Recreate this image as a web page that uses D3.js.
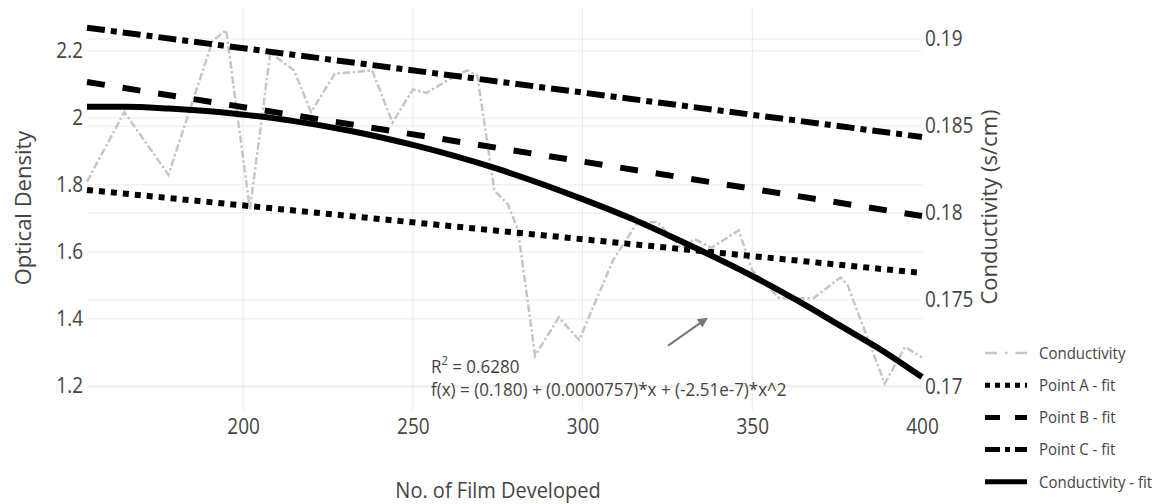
<!DOCTYPE html>
<html lang="en">
  <head>
    <meta charset="utf-8" />
    <script src="https://d3js.org/d3.v7.min.js"></script>
    <style>
      body { margin: 0; background: #fff; }
      text { font-family: 'Open Sans', 'Noto Sans', sans-serif; fill: #444; }
      .sq { transform-box: fill-box; transform-origin: center; transform: scaleY(1.1); }
    </style>
  </head>
  <body>
    <svg id="chart" width="1163" height="504"></svg>
    <script>
      // film counts and measured conductivity (s/cm)
      const filmX = [154, 165, 178, 191, 195, 202, 208, 215, 220, 227, 238, 244, 250, 254, 260, 266, 269, 274, 278, 281,
        286, 293, 299, 309, 316, 322, 329, 333, 338, 346, 350, 358, 368, 376, 378, 389, 395, 400];
      const conductivity = [0.1818, 0.1858, 0.1822, 0.1899, 0.1905, 0.1802, 0.1892, 0.1882, 0.1858, 0.1880, 0.1882, 0.1852,
        0.1871, 0.1869, 0.1876, 0.1882, 0.1879, 0.1813, 0.1805, 0.1790, 0.1718, 0.1740, 0.1727, 0.1773, 0.1794, 0.1795,
        0.1780, 0.1785, 0.1780, 0.1790, 0.1767, 0.1751, 0.1751, 0.1763, 0.1759, 0.1702, 0.1723, 0.1717];

      // quadratic fit of conductivity
      const fitX = [154, 165, 178, 191, 202, 215, 231, 250, 275, 300, 314, 327, 350, 364, 376, 388, 400];
      const conductivityFit = [0.1861, 0.1861, 0.1860, 0.18583, 0.18561, 0.18528, 0.18474, 0.18391, 0.18253, 0.18080,
        0.17971, 0.17856, 0.17638, 0.17489, 0.17351, 0.17213, 0.17057];

      // linear fits of optical density (start, end)
      const lineX = [154, 400];
      const pointA = [1.785, 1.537];
      const pointB = [2.107, 1.707];
      const pointC = [2.269, 1.943];

      const xTicks = [200, 250, 300, 350, 400];
      const leftTicks = [1.2, 1.4, 1.6, 1.8, 2, 2.2];
      const rightTicks = [0.17, 0.175, 0.18, 0.185, 0.19];
      const legendNames = ['Conductivity', 'Point A - fit', 'Point B - fit', 'Point C - fit', 'Conductivity - fit'];

      const svg = d3.select('#chart');
      const mLeft = 87, mRight = 922, mTop = 8, mBottom = 410;

      const x = d3.scaleLinear().domain([154, 400]).range([mLeft, mRight]);
      const yL = d3.scaleLinear().domain([1.128, 2.328]).range([mBottom, mTop]);
      const yR = d3.scaleLinear().domain([0.16868, 0.19178]).range([mBottom, mTop]);

      // grid
      const grid = svg.append('g').attr('stroke', '#ebebeb').attr('stroke-width', 1);
      grid.selectAll('.gx').data(xTicks.filter(d => d < 400)).enter().append('line')
        .attr('x1', d => x(d)).attr('x2', d => x(d)).attr('y1', mTop).attr('y2', mBottom);
      grid.selectAll('.gl').data(leftTicks).enter().append('line')
        .attr('x1', mLeft).attr('x2', mRight).attr('y1', d => yL(d)).attr('y2', d => yL(d));
      grid.selectAll('.gr').data(rightTicks).enter().append('line')
        .attr('x1', mLeft).attr('x2', mRight).attr('y1', d => yR(d)).attr('y2', d => yR(d));

      // axes
      const axX = svg.append('g').attr('transform', `translate(0,${mBottom})`)
        .call(d3.axisBottom(x).tickValues(xTicks).tickSize(0).tickPadding(10));
      const axL = svg.append('g').attr('transform', `translate(${mLeft},0)`)
        .call(d3.axisLeft(yL).tickValues(leftTicks).tickSize(0).tickPadding(4).tickFormat(d3.format('')));
      const axR = svg.append('g').attr('transform', `translate(${mRight},0)`)
        .call(d3.axisRight(yR).tickValues(rightTicks).tickSize(0).tickPadding(3).tickFormat(d3.format('')));
      [axX, axL, axR].forEach(a => {
        a.select('.domain').remove();
        a.selectAll('text').attr('class', 'sq').style('font-size', '19px').attr('fill', '#444')
          .style('font-family', "'Open Sans', sans-serif");
      });

      // series
      const lineFn = (yScale) => d3.line().x(d => x(d[0])).y(d => yScale(d[1]));
      const styles = [
        { color: '#c6c6c6', width: 2.5, dash: '7.5,2.5,2.5,2.5' },
        { color: '#000', width: 6, dash: '6,6' },
        { color: '#000', width: 6, dash: '18,18' },
        { color: '#000', width: 6, dash: '18,6,6,6' },
        { color: '#000', width: 6, dash: null },
      ];

      const series = [
        { pts: d3.zip(filmX, conductivity), y: yR, curve: d3.curveLinear },
        { pts: d3.zip(lineX, pointA), y: yL, curve: d3.curveLinear },
        { pts: d3.zip(lineX, pointB), y: yL, curve: d3.curveLinear },
        { pts: d3.zip(lineX, pointC), y: yL, curve: d3.curveLinear },
        { pts: d3.zip(fitX, conductivityFit), y: yR, curve: d3.curveMonotoneX },
      ];

      series.forEach((s, i) => {
        svg.append('path')
          .attr('d', lineFn(s.y).curve(s.curve)(s.pts))
          .attr('fill', 'none')
          .attr('stroke', styles[i].color)
          .attr('stroke-width', styles[i].width)
          .attr('stroke-dasharray', styles[i].dash);
      });

      // annotation
      svg.append('defs').append('marker')
        .attr('id', 'arrow').attr('viewBox', '0 0 10 10').attr('refX', 8).attr('refY', 5)
        .attr('markerWidth', 5).attr('markerHeight', 5).attr('orient', 'auto')
        .append('path').attr('d', 'M0,0 L10,5 L0,10 z').attr('fill', '#777');
      svg.append('line')
        .attr('x1', x(325.2)).attr('y1', yL(1.32)).attr('x2', x(336.4)).attr('y2', yL(1.40))
        .attr('stroke', '#777').attr('stroke-width', 2).attr('marker-end', 'url(#arrow)');

      const ann = svg.append('text').attr('x', 431).attr('y', 372).attr('class', 'sq').style('font-size', '17px');
      ann.append('tspan').text('R');
      ann.append('tspan').attr('dy', -7).style('font-size', '11px').text('2');
      ann.append('tspan').attr('dy', 7).text(' = 0.6280');
      svg.append('text').attr('x', 431).attr('y', 395).attr('class', 'sq').style('font-size', '17px')
        .text('f(x) = (0.180) + (0.0000757)*x + (-2.51e-7)*x^2');

      // axis titles
      svg.append('text').attr('class', 'sq').attr('x', 498).attr('y', 497)
        .attr('text-anchor', 'middle').style('font-size', '20px').text('No. of Film Developed');
      svg.append('text').attr('transform', 'translate(31,208) rotate(-90)')
        .attr('text-anchor', 'middle').style('font-size', '22px').text('Optical Density');
      svg.append('text').attr('transform', 'translate(997,207) rotate(-90)')
        .attr('text-anchor', 'middle').style('font-size', '22px').text('Conductivity (s/cm)');

      // legend
      const legend = svg.append('g');
      legendNames.forEach((name, i) => {
        const ly = 353 + i * 32.2;
        legend.append('line')
          .attr('x1', 985).attr('x2', 1027).attr('y1', ly).attr('y2', ly)
          .attr('stroke', styles[i].color)
          .attr('stroke-width', Math.min(styles[i].width, 5))
          .attr('stroke-dasharray', i === 0 ? '12,8,2.5,8' : styles[i].dash ? styles[i].dash.split(',').map(v => v * 5 / 6).join(',') : null);
        legend.append('text').attr('class', 'sq').attr('x', 1039).attr('y', ly).attr('dy', '0.35em')
          .style('font-size', '15px').text(name);
      });
    </script>
  </body>
</html>
